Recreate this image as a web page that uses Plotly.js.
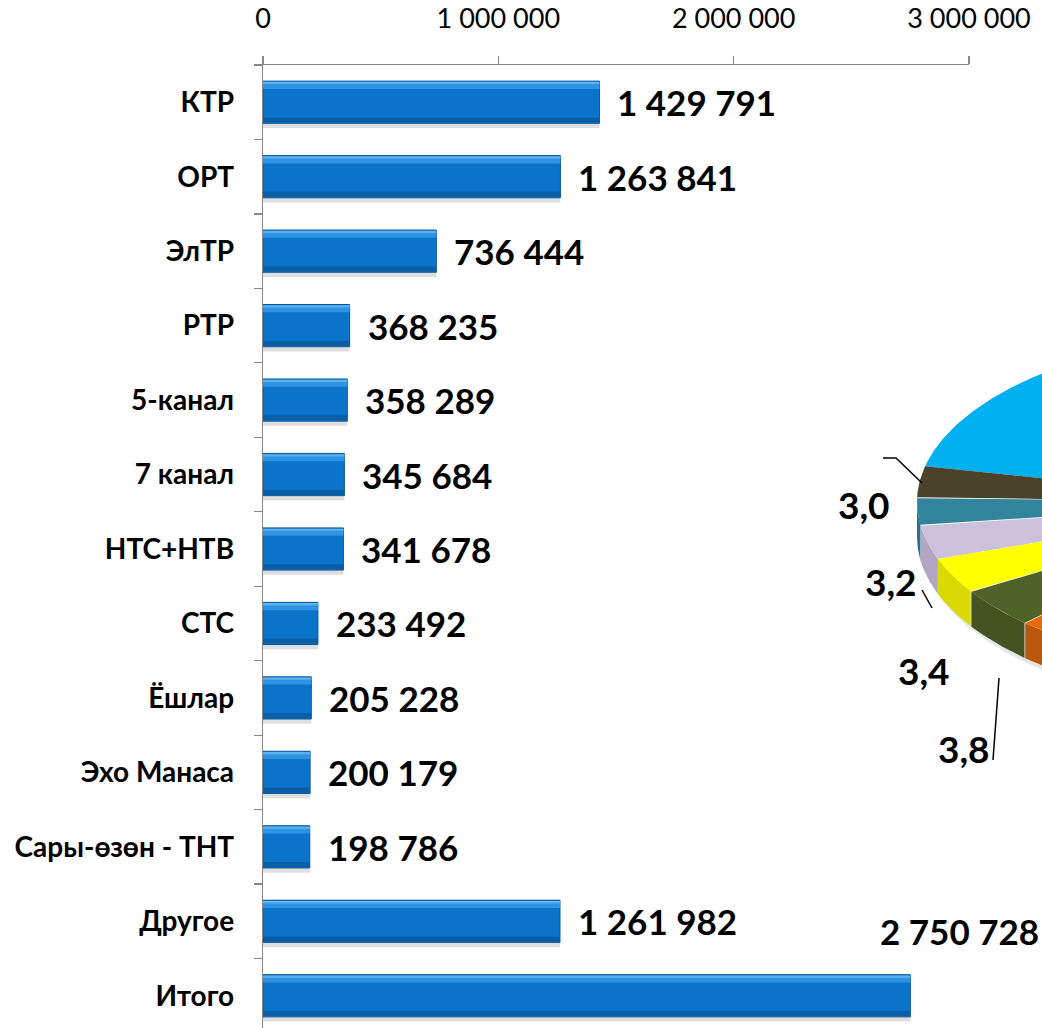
<!DOCTYPE html>
<html>
<head>
<meta charset="utf-8">
<script src="https://cdn.plot.ly/plotly-3.0.1.min.js"></script>
<style>html,body{margin:0;padding:0;background:#fff;}#chart{width:1042px;height:1028px;}</style>
</head>
<body>
<div id="chart"></div>
<script>
// ---- Bar chart data ----
const categories = ['КТР','ОРТ','ЭлТР','РТР','5-канал','7 канал','НТС+НТВ','СТС','Ёшлар','Эхо Манаса','Сары-өзөн - ТНТ','Другое','Итого'];
const values = [1429791, 1263841, 736444, 368235, 358289, 345684, 341678, 233492, 205228, 200179, 198786, 1261982, 2750728];
const xTickValues = [0, 1000000, 2000000, 3000000];
const xTickLabels = ['0', '1 000 000', '2 000 000', '3 000 000'];

// ---- Partial pie (cut off at the right edge) ----
const pieValues = [40.0, 3.0, 2.6, 3.2, 3.4, 3.8, 10.0, 34.0];
const pieLabels = ['3,0', '3,2', '3,4', '3,8'];
const pieTopColors  = ['#00B0F0','#4A4329','#31849B','#CCC1DA','#FFFF00','#4F6228','#E46C0A','#C0504D'];
const pieSideColors = ['#0096CC','#3C3621','#2A7286','#B3A6C4','#DADA00','#435322','#B9570A','#9E3F3C'];

function fmt(v){ return String(v).replace(/\B(?=(\d{3})+(?!\d))/g, ' '); }

const W = 1042, H = 1028, L = 263, T = 65;
const innerW = W - L, innerH = H - T;
const xMaxPx = 969; // pixel where 3 000 000 sits
const FONT = 'Lato, "Open Sans", sans-serif';

const traces = [];
const barW = 0.567, barOff = -barW/2;
// soft shadow
traces.push({type:'bar', orientation:'h', y:categories, x:values, width:0.6, offset:barOff+0.03,
  marker:{color:'rgba(0,0,0,0.13)', line:{width:0}}, hoverinfo:'skip', xaxis:'x', yaxis:'y'});
// main bar
traces.push({type:'bar', orientation:'h', y:categories, x:values, width:barW, offset:barOff,
  marker:{color:'#0A74CB', line:{color:'#0B5A9C', width:1}}, xaxis:'x', yaxis:'y'});
// top highlight
traces.push({type:'bar', orientation:'h', y:categories, x:values, width:0.09, offset:barOff+0.015,
  marker:{color:'#2F93E3', line:{width:0}}, hoverinfo:'skip', xaxis:'x', yaxis:'y'});
traces.push({type:'bar', orientation:'h', y:categories, x:values, width:0.03, offset:barOff+0.01,
  marker:{color:'#5DB2F0', line:{width:0}}, hoverinfo:'skip', xaxis:'x', yaxis:'y'});
// bottom dark edge
traces.push({type:'bar', orientation:'h', y:categories, x:values, width:0.07, offset:-barOff-0.08,
  marker:{color:'#0A5EA6', line:{width:0}}, hoverinfo:'skip', xaxis:'x', yaxis:'y'});

// ---- pie geometry (pixel units on x2/y2) ----
const cx = 1279, cy = 502, ra = 362, rb = 170, depth = 35;
const total = pieValues.reduce((s,v)=>s+v,0);
const phiStart = -12.1 - 3.6*pieValues[0]*100/total; // degrees
function rim(phi){ const r = phi*Math.PI/180; return [cx - ra*Math.cos(r), cy + rb*Math.sin(r)]; }
const bounds = [phiStart];
pieValues.forEach(v => bounds.push(bounds[bounds.length-1] + 360*v/total));

// shadow under pie
(function(){
  const xs=[], ys=[];
  for(let p=-5;p<=185;p+=1){ const q=rim(p); xs.push(q[0]+4); ys.push(q[1]+depth+6); }
  for(let p=185;p>=-5;p-=1){ const q=rim(p); xs.push(q[0]); ys.push(q[1]); }
  traces.push({type:'scatter', x:xs, y:ys, mode:'lines', fill:'toself', fillcolor:'rgba(0,0,0,0.10)',
    line:{width:0}, hoverinfo:'skip', xaxis:'x2', yaxis:'y2'});
})();

// side faces
for(let i=0;i<pieValues.length;i++){
  const s = Math.max(bounds[i], 0), e = Math.min(bounds[i+1], 180);
  if(e <= s) continue;
  const xs=[], ys=[];
  for(let p=s;p<=e+1e-9;p+=Math.min(0.5,e-s)){ const q=rim(p); xs.push(q[0]); ys.push(q[1]); }
  for(let k=xs.length-1;k>=0;k--){ xs.push(xs[k]); ys.push(ys[k]+depth); }
  traces.push({type:'scatter', x:xs, y:ys, mode:'lines', fill:'toself', fillcolor:pieSideColors[i],
    line:{width:0}, hoverinfo:'skip', xaxis:'x2', yaxis:'y2'});
}
// top faces
for(let i=0;i<pieValues.length;i++){
  const xs=[cx], ys=[cy];
  const s = bounds[i], e = bounds[i+1];
  for(let p=s;p<=e+1e-9;p+=Math.min(0.5,e-s)){ const q=rim(p); xs.push(q[0]); ys.push(q[1]); }
  xs.push(cx); ys.push(cy);
  traces.push({type:'scatter', x:xs, y:ys, mode:'lines', fill:'toself', fillcolor:pieTopColors[i],
    line:{width:0}, hoverinfo:'skip', xaxis:'x2', yaxis:'y2'});
}

// ---- annotations ----
const annotations = [];
const valueFont = {family:FONT, size:35, color:'#000'};
values.forEach((v,i)=>{
  const last = i === values.length-1;
  annotations.push({x:v, y:categories[i], xref:'x', yref:'y', text:'<b>'+fmt(v)+'</b>', showarrow:false,
    xanchor:'left', yanchor:'middle', xshift:last ? -32 : 16, yshift:last ? 65 : 0, font:valueFont});
});
// pie labels
const pieLabelPos = [[864,504],[891,581],[924,670],[964,748]];
pieLabels.forEach((t,k)=>{
  annotations.push({x:pieLabelPos[k][0], y:pieLabelPos[k][1], xref:'x2', yref:'y2', text:'<b>'+t+'</b>',
    showarrow:false, xanchor:'center', yanchor:'middle', font:{family:FONT, size:37, color:'#000'}});
});
const shapes = [
  {type:'path', xref:'x2', yref:'y2', path:'M883,458 L896,458 L922,483', line:{color:'#000', width:1.5}},
  {type:'line', xref:'x2', yref:'y2', x0:922, y0:590, x1:932, y1:608, line:{color:'#000', width:1.5}},
  {type:'line', xref:'x2', yref:'y2', x0:993, y0:760, x1:999, y1:678, line:{color:'#000', width:1.5}}
];

const pieBox = {x0:840, x1:1042, y0:330, y1:800};
const layout = {
  width: W, height: H,
  margin:{l:L, r:0, t:T, b:0, pad:0},
  paper_bgcolor:'#fff', plot_bgcolor:'rgba(0,0,0,0)',
  barmode:'overlay', showlegend:false, separators:', ',
  font:{family:FONT, color:'#000'},
  xaxis:{domain:[0,(xMaxPx-L)/innerW], range:[0,3000000], side:'top', anchor:'y',
    tickvals:xTickValues, ticktext:xTickLabels, showgrid:false, zeroline:false,
    showline:true, linecolor:'#888', linewidth:1.3, ticks:'outside', ticklen:8, tickcolor:'#888', tickwidth:1.3,
    tickfont:{family:FONT, size:27, color:'#000'}, ticklabelstandoff:17, fixedrange:true},
  yaxis:{domain:[0,1], range:[12.433,-0.5], type:'category', anchor:'x', showgrid:false, zeroline:false,
    showline:true, linecolor:'#888', linewidth:1.3, ticks:'outside', ticklen:8, tickcolor:'#888', tickwidth:1.3,
    tickson:'boundaries', tickfont:{family:FONT, size:28, color:'#000', weight:700}, ticklabelstandoff:22},
  xaxis2:{domain:[(pieBox.x0-L)/innerW, 1], range:[pieBox.x0, pieBox.x1], anchor:'y2', visible:false, showgrid:false, zeroline:false},
  yaxis2:{domain:[(H-pieBox.y1)/innerH, (H-pieBox.y0)/innerH], range:[pieBox.y1, pieBox.y0], anchor:'x2', visible:false, showgrid:false, zeroline:false},
  annotations: annotations,
  shapes: shapes
};

Plotly.newPlot('chart', traces, layout, {displayModeBar:false, staticPlot:true});
</script>
</body>
</html>
